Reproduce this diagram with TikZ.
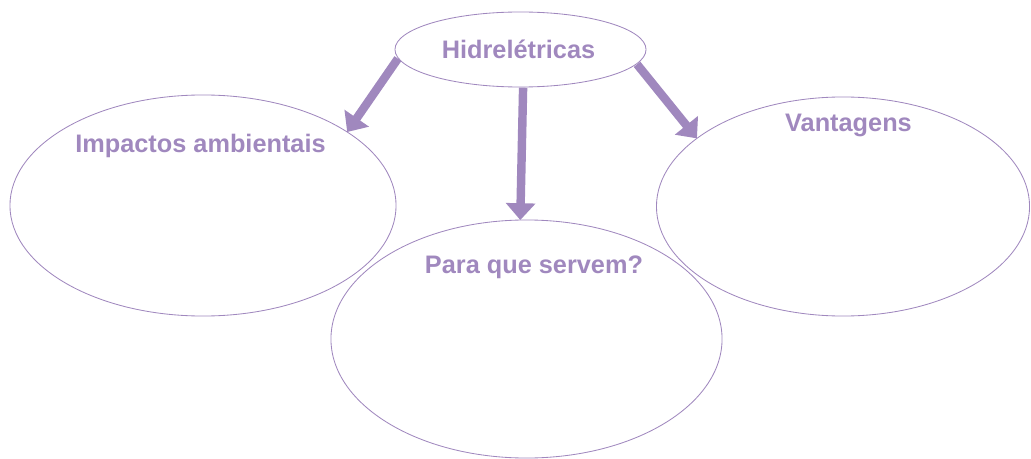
\documentclass[tikz,border=0pt]{standalone}
\usepackage{fontspec}
\setmainfont{Liberation Sans}
\usepackage{xcolor}
\usetikzlibrary{shapes.geometric, arrows.meta}

\definecolor{lilas}{RGB}{160,136,190}

\begin{document}
\begin{tikzpicture}[x = 0.025cm, y = -0.025cm,
		balao/.style = {ellipse, draw = lilas, line width = 0.6pt, inner sep = 0pt, outer sep = 0pt},
		titulo/.style = {anchor = base, text = lilas, font = \fontsize{18}{20}\selectfont\bfseries, inner sep = 0pt},
		seta/.style = {draw = lilas, line width = 6pt, -{Triangle[width = 0.72cm, length = 0.42cm]}}]
					\useasboundingbox (0,0) rectangle (1031,459);

					\begin{scope}
						\node [balao, minimum width = 6.275cm, minimum height = 1.875cm] (hidro) at (520.5,49.5) {};
						\node [balao, minimum width = 9.65cm, minimum height = 5.525cm] (impactos) at (203,205.5) {};
						\node [balao, minimum width = 9.775cm, minimum height = 5.95cm] (servem) at (526.5,339) {};
						\node [balao, minimum width = 9.325cm, minimum height = 5.475cm] (vantagens) at (843,206.5) {};
					\end{scope}

					\begin{scope}
						\node [titulo] (tHidro) at (518.5,59) {Hidrelétricas};
						\node [titulo] (tImpactos) at (200.5,153) {Impactos ambientais};
						\node [titulo] (tServem) at (534,273) {Para que servem?};
						\node [titulo] (tVantagens) at (848.5,132) {Vantagens};
					\end{scope}

					\begin{scope}[shorten <= 0.5pt]
						\draw [seta] (hidro.184.8) -- (impactos.27.4);
						\draw [seta] (hidro.274) -- (servem.93);
						\draw [seta] (hidro.353.4) -- (vantagens.155.7);
					\end{scope}
				\end{tikzpicture}
\end{document}
